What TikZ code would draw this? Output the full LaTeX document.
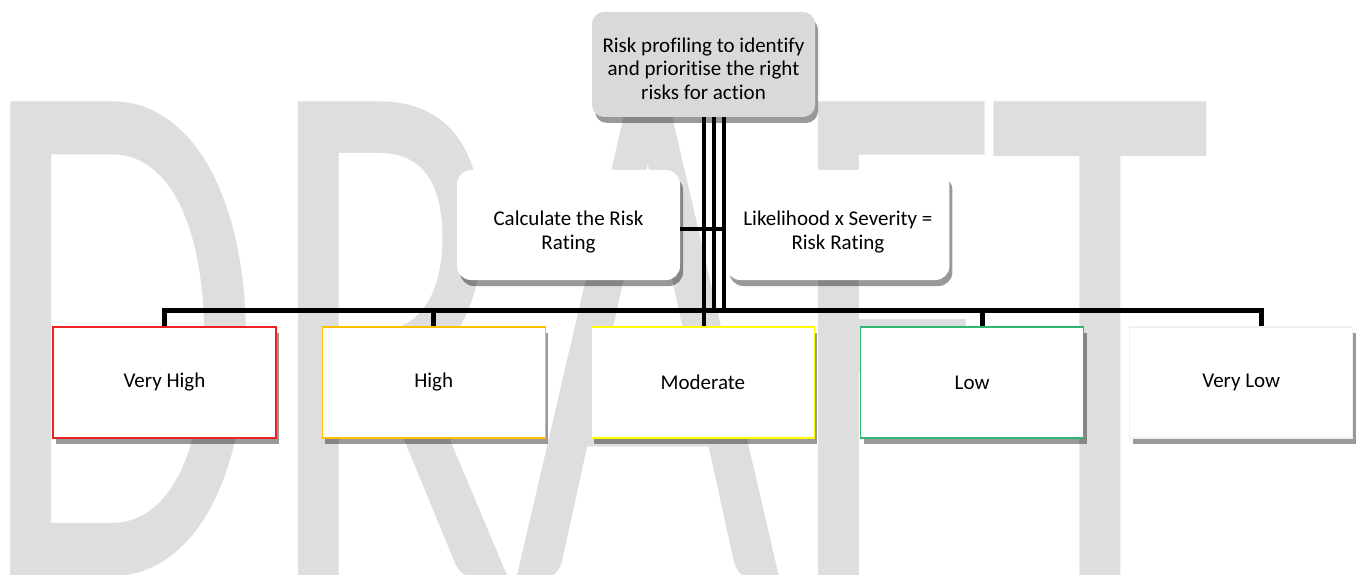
\documentclass[tikz,border=0pt]{standalone}
\usepackage{fontspec}
\setmainfont{Carlito}[Ligatures=CommonOff]
\usetikzlibrary{positioning, shadows}
\definecolor{wmgray}{HTML}{DEDEDE}
\definecolor{topgray}{HTML}{D9D9D9}
\definecolor{vhred}{HTML}{EE2222}
\definecolor{hiamber}{HTML}{FFC000}
\definecolor{modyellow}{HTML}{FFFF00}
\definecolor{lowgreen}{HTML}{2EB872}
\definecolor{vlwhite}{HTML}{F0F0F0}

\begin{document}
\begin{tikzpicture}[x=1pt, y=1pt,
    every node/.style={font=\fontsize{21}{23.5}\selectfont, align=center},
    boxshadow/.style={drop shadow={shadow xshift=3pt, shadow yshift=-6pt, draw=none, fill=black, opacity=0.4}},
    watermark/.style={wmgray, anchor=base west, inner sep=0pt, xscale=0.62, font=\fontsize{740}{740}\selectfont},
    topbox/.style={rounded corners=12pt, fill=topgray, minimum width=223pt, minimum height=105pt, boxshadow},
    sidebox/.style={rounded corners=14pt, fill=white, minimum width=223pt, minimum height=110pt, boxshadow},
    levelbox/.style={draw=#1, fill=white, line width=1.3pt, minimum width=223pt, minimum height=111pt, boxshadow},
    conn/.style={line width=5pt},
    stem/.style={line width=4pt}]
    % Page size and watermark
    \useasboundingbox (0,0) rectangle (1356,574);
    \foreach \ch/\xx in {D/-21, R/265, A/515, F/787, T/988} {
      \node[watermark] (wm\ch) at (\xx,-2) {\ch};
    }

    % Top box and the two side boxes (text sits a little low in them)
    \node[topbox, label={[name=profiletxt, yshift=-4pt]center:{Risk profiling to identify\\and prioritise the right\\risks for action}}] (profile) at (703.5,509.5) {};
    \node[sidebox, label={[name=calctxt, yshift=-7pt]center:{Calculate the Risk\\Rating}}] (calc) at (568.5,349) {};
    \node[sidebox, right=46pt of calc, label={[name=formulatxt, yshift=-7pt]center:{Likelihood x Severity =\\Risk Rating}}] (formula) {};

    % Risk rating levels
    \foreach \lbl/\col [count=\i] in {Very High/vhred, High/hiamber, Moderate/modyellow, Low/lowgreen, Very Low/vlwhite} {
      \node[levelbox=\col] (lvl\i) at ({164.5+269.2*(\i-1)},191.5) {\lbl};
    }

    % Three stems from the top box
    \draw[stem] (profile.south) -- (profile.south |- lvl3.north);
    \foreach \dx in {10,20} {
      \draw[stem] ([xshift=\dx pt]profile.south) -- ([xshift=\dx pt,yshift=16pt]profile.south |- lvl3.north);
    }
    \draw[stem] ([yshift=-4pt]calc.east) -- ([xshift=22pt,yshift=-4pt]profile.south |- calc.east);

    % Bus and drops to the levels
    \coordinate (busL) at ([yshift=16pt]lvl1.north);
    \draw[conn] (lvl1.north) -- (busL) -- ([xshift=20.5pt]busL -| lvl5.north) -- ([xshift=20.5pt]lvl5.north);
    \foreach \n/\dx in {2/0, 4/10} {
      \draw[conn] ([xshift=\dx pt]lvl\n.north) -- ++(0,16);
    }
\end{tikzpicture}
\end{document}
